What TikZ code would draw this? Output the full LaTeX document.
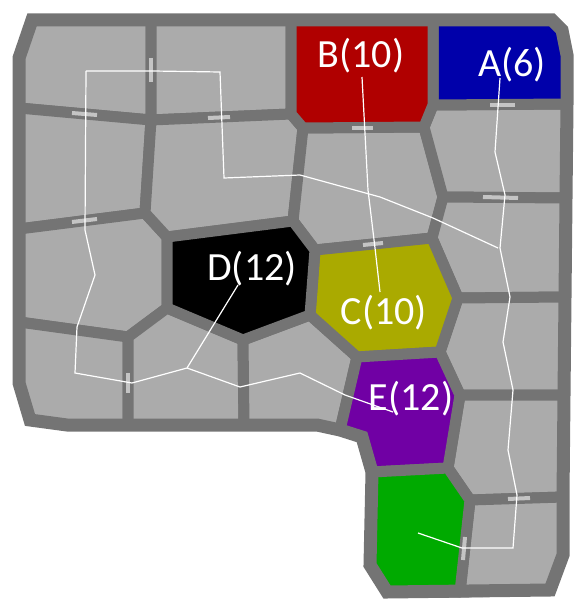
\documentclass[tikz,border=0pt]{standalone}
\usepackage{fontspec}
\setmainfont{Carlito}
\definecolor{cellgr}{RGB}{171,171,171}
\definecolor{wallgr}{RGB}{116,116,116}
\definecolor{doorgr}{RGB}{196,196,196}
\definecolor{roomA}{RGB}{0,0,170}
\definecolor{roomB}{RGB}{176,0,0}
\definecolor{roomC}{RGB}{170,170,0}
\definecolor{roomD}{RGB}{0,0,0}
\definecolor{roomE}{RGB}{112,0,164}
\definecolor{roomG}{RGB}{0,170,0}

\begin{document}
\begin{tikzpicture}[x=1pt,y=-1pt,
  room/.style={draw=wallgr,line width=11pt,line join=round,fill=cellgr},
  outer/.style={draw=wallgr,line width=13pt,line join=miter},
  door/.style={doorgr,line width=4pt},
  route/.style={white,line width=1.2pt},
  tag/.style={text=white,anchor=base,inner sep=0pt,font=\fontsize{40}{42}\selectfont}]
  \useasboundingbox (0,0) rectangle (577,602);

  % left column
  \path[room] (19,58) -- (32,20) -- (151,20) -- (151,120) -- (19,108) -- cycle;
  \path[room] (19,108) -- (151,120) -- (145,213) -- (19,229) -- cycle;
  \path[room] (19,229) -- (145,213) -- (167,237) -- (167,308) -- (128,337) -- (19,322) -- cycle;
  \path[room] (19,322) -- (128,337) -- (128,425) -- (67,425) -- (30,420) -- (19,383) -- cycle;

  % middle
  \path[room] (151,20) -- (291,20) -- (291,114) -- (151,120) -- cycle;
  \path[room] (151,120) -- (291,114) -- (303,128) -- (293,221) -- (167,237) -- (145,213) -- cycle;
  \path[room] (303,128) -- (424,127) -- (443,197) -- (432,238) -- (315,250) -- (293,221) -- cycle;
  \path[room] (128,337) -- (167,308) -- (243,340) -- (244,425) -- (128,425) -- cycle;
  \path[room] (243,340) -- (310,315) -- (357,357) -- (340,430) -- (317,425) -- (244,425) -- cycle;

  % right column
  \path[room] (433,105) -- (567,104) -- (566,198) -- (443,197) -- (424,127) -- cycle;
  \path[room] (443,197) -- (566,198) -- (565,297) -- (458,298) -- (432,238) -- cycle;
  \path[room] (458,298) -- (565,297) -- (564,395) -- (460,395) -- (440,352) -- cycle;
  \path[room] (460,395) -- (564,395) -- (563,497) -- (470,500) -- (448,468) -- cycle;
  \path[room] (470,500) -- (563,497) -- (563,555) -- (550,590) -- (460,592) -- cycle;

  % coloured rooms
  \path[room,fill=roomA] (433,20) -- (552,20) -- (562,30) -- (567,55) -- (567,104) -- (433,105) -- cycle;
  \path[room,fill=roomB] (291,20) -- (433,20) -- (433,105) -- (424,127) -- (303,128) -- (291,114) -- cycle;
  \path[room,fill=roomC] (315,250) -- (432,238) -- (458,298) -- (440,352) -- (357,357) -- (310,315) -- cycle;
  \path[room,fill=roomD] (167,237) -- (293,221) -- (315,250) -- (310,315) -- (243,340) -- (167,308) -- cycle;
  \path[room,fill=roomE] (357,357) -- (440,352) -- (460,395) -- (448,468) -- (372,472) -- (362,437) -- (340,430) -- cycle;
  \path[room,fill=roomG] (372,472) -- (448,468) -- (470,500) -- (460,592) -- (387,592) -- (370,565) -- cycle;

  % outer wall
  \path[outer] (32,20) -- (552,20) -- (562,30) -- (567,55) -- (567,104) -- (566,198) -- (565,297)
    -- (564,395) -- (563,497) -- (563,555) -- (550,590) -- (387,592) -- (370,565) -- (372,472)
    -- (362,437) -- (340,430) -- (317,425) -- (244,425) -- (128,425) -- (67,425) -- (30,420)
    -- (19,383) -- (19,58) -- cycle;

  % doors
  \draw[door] (72,113) -- (97,115);
  \draw[door] (72,222) -- (97,219);
  \draw[door] (208,118) -- (230,117);
  \draw[door] (151,58) -- (151,82);
  \draw[door] (352,128) -- (373,128);
  \draw[door] (490,105) -- (515,105);
  \draw[door] (483,197) -- (518,198);
  \draw[door] (363,245) -- (383,243);
  \draw[door] (508,499) -- (530,498);
  \draw[door] (465,537) -- (463,560);
  \draw[door] (128,373) -- (128,393);

  % routes
  \draw[route] (86,71) -- (153,71) -- (220,72) -- (224,178) -- (300,175) -- (380,197) -- (433,218) -- (498,248);
  \draw[route] (362,77) -- (368,190) -- (375,248) -- (380,292);
  \draw[route] (500,78) -- (495,152) -- (505,195) -- (500,248) -- (510,297) -- (503,342) -- (513,390)
    -- (508,450) -- (517,495) -- (513,548) -- (462,548) -- (418,533);
  \draw[route] (86,71) -- (85,230) -- (95,275) -- (77,327) -- (75,373) -- (132,383) -- (187,368) -- (238,285);
  \draw[route] (187,368) -- (240,387) -- (300,373) -- (345,395) -- (393,412);

  % labels
  \node[tag] (labA) at (512,76) {A(6)};
  \node[tag] (labB) at (361,67) {B(10)};
  \node[tag] (labC) at (384,324) {C(10)};
  \node[tag] (labD) at (252,280) {D(12)};
  \node[tag] (labE) at (411,410) {E(12)};
\end{tikzpicture}
\end{document}
